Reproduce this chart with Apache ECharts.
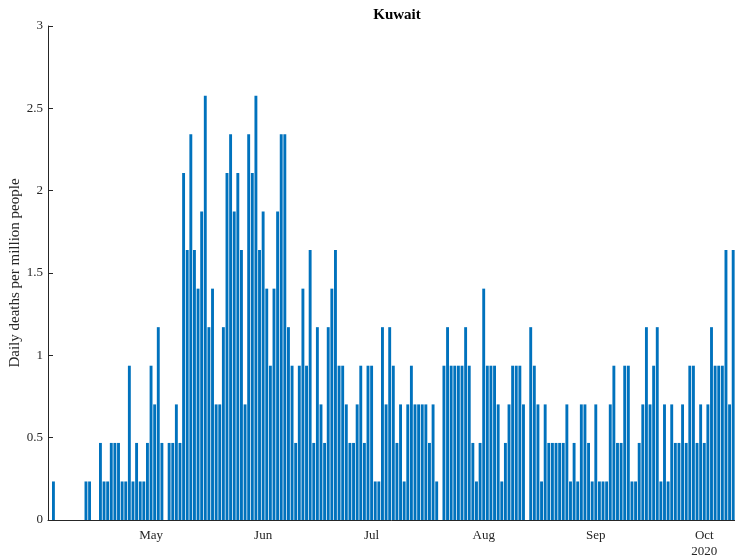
<!DOCTYPE html>
<html>
<head>
<meta charset="utf-8">
<script src="https://cdn.jsdelivr.net/npm/echarts@6/dist/echarts.min.js"></script>
<style>
  html, body { margin: 0; padding: 0; background: #fff; }
  #chart { width: 735px; height: 559px; }
</style>
</head>
<body>
<div id="chart"></div>
<script>
// daily deaths per million people, Kuwait 2020, one entry per day
const firstDay = '2020-04-03';
const aprValues = [0, 0.234, 0, 0, 0, 0, 0, 0, 0, 0, 0.234, 0.234, 0, 0, 0.468, 0.234, 0.234, 0.468, 0.468, 0.468, 0.234, 0.234, 0.937, 0.234, 0.468, 0.234, 0.234, 0.468];
const mayValues = [0.937, 0.702, 1.171, 0.468, 0, 0.468, 0.468, 0.702, 0.468, 2.107, 1.639, 2.342, 1.639, 1.405, 1.873, 2.576, 1.171, 1.405, 0.702, 0.702, 1.171, 2.107, 2.342, 1.873, 2.107, 1.639, 0.702, 2.342, 2.107, 2.576, 1.639];
const junValues = [1.873, 1.405, 0.937, 1.405, 1.873, 2.342, 2.342, 1.171, 0.937, 0.468, 0.937, 1.405, 0.937, 1.639, 0.468, 1.171, 0.702, 0.468, 1.171, 1.405, 1.639, 0.937, 0.937, 0.702, 0.468, 0.468, 0.702, 0.937, 0.468, 0.937];
const julValues = [0.937, 0.234, 0.234, 1.171, 0.702, 1.171, 0.937, 0.468, 0.702, 0.234, 0.702, 0.937, 0.702, 0.702, 0.702, 0.702, 0.468, 0.702, 0.234, 0, 0.937, 1.171, 0.937, 0.937, 0.937, 0.937, 1.171, 0.937, 0.468, 0.234, 0.468];
const augValues = [1.405, 0.937, 0.937, 0.937, 0.702, 0.234, 0.468, 0.702, 0.937, 0.937, 0.937, 0.702, 0, 1.171, 0.937, 0.702, 0.234, 0.702, 0.468, 0.468, 0.468, 0.468, 0.468, 0.702, 0.234, 0.468, 0.234, 0.702, 0.702, 0.468, 0.234];
const sepValues = [0.702, 0.234, 0.234, 0.234, 0.702, 0.937, 0.468, 0.468, 0.937, 0.937, 0.234, 0.234, 0.468, 0.702, 1.171, 0.702, 0.937, 1.171, 0.234, 0.702, 0.234, 0.702, 0.468, 0.468, 0.702, 0.468, 0.937, 0.937, 0.468, 0.702];
const octValues = [0.468, 0.702, 1.171, 0.937, 0.937, 0.937, 1.639, 0.702, 1.639];

const monthNames = ['Jan', 'Feb', 'Mar', 'Apr', 'May', 'Jun', 'Jul', 'Aug', 'Sep', 'Oct', 'Nov', 'Dec'];
const yearLabel = '2020';

const values = [].concat(aprValues, mayValues, junValues, julValues, augValues, sepValues, octValues);

// one category per day starting at firstDay
const days = [];
const start = new Date(firstDay + 'T00:00:00Z');
for (let i = 0; i < values.length; i++) {
  const d = new Date(start.getTime() + i * 86400000);
  days.push(d.toISOString().slice(0, 10));
}

const isMonthStart = (idx, val) => val.slice(8, 10) === '01';
const font = 'Liberation Serif';
const ink = '#262626';

const chart = echarts.init(document.getElementById('chart'));
chart.setOption({
  animation: false,
  title: {
    text: 'Kuwait',
    left: 392,
    textAlign: 'center',
    top: 3,
    textStyle: { fontFamily: font, fontSize: 15, fontWeight: 'bold', color: '#000' }
  },
  grid: { left: 48, right: 0, top: 26, bottom: 39, containLabel: false, outerBoundsMode: 'none' },
  xAxis: {
    type: 'category',
    data: days,
    boundaryGap: true,
    axisLine: { lineStyle: { color: ink, width: 1 } },
    axisTick: { inside: true, alignWithLabel: true, interval: isMonthStart, length: 5, lineStyle: { color: ink } },
    axisLabel: {
      interval: isMonthStart,
      fontFamily: font,
      fontSize: 13,
      color: ink,
      margin: 8,
      lineHeight: 16,
      formatter: (val) => {
        const m = monthNames[parseInt(val.slice(5, 7), 10) - 1];
        return val.slice(5) === '10-01' ? m + '\n' + yearLabel : m;
      }
    }
  },
  yAxis: {
    type: 'value',
    min: 0,
    max: 3,
    interval: 0.5,
    name: 'Daily deaths per million people',
    nameLocation: 'middle',
    nameGap: 25,
    nameMoveOverlap: false,
    nameTextStyle: { fontFamily: font, fontSize: 15, color: ink },
    axisLine: { show: true, lineStyle: { color: ink, width: 1 } },
    axisTick: { show: true, inside: true, length: 5, lineStyle: { color: ink } },
    splitLine: { show: false },
    axisLabel: { fontFamily: font, fontSize: 13, color: ink, margin: 5, formatter: (v) => String(v) }
  },
  series: [{
    type: 'bar',
    data: values,
    barCategoryGap: '20%',
    itemStyle: { color: '#0072BD' }
  }]
});
</script>
</body>
</html>
